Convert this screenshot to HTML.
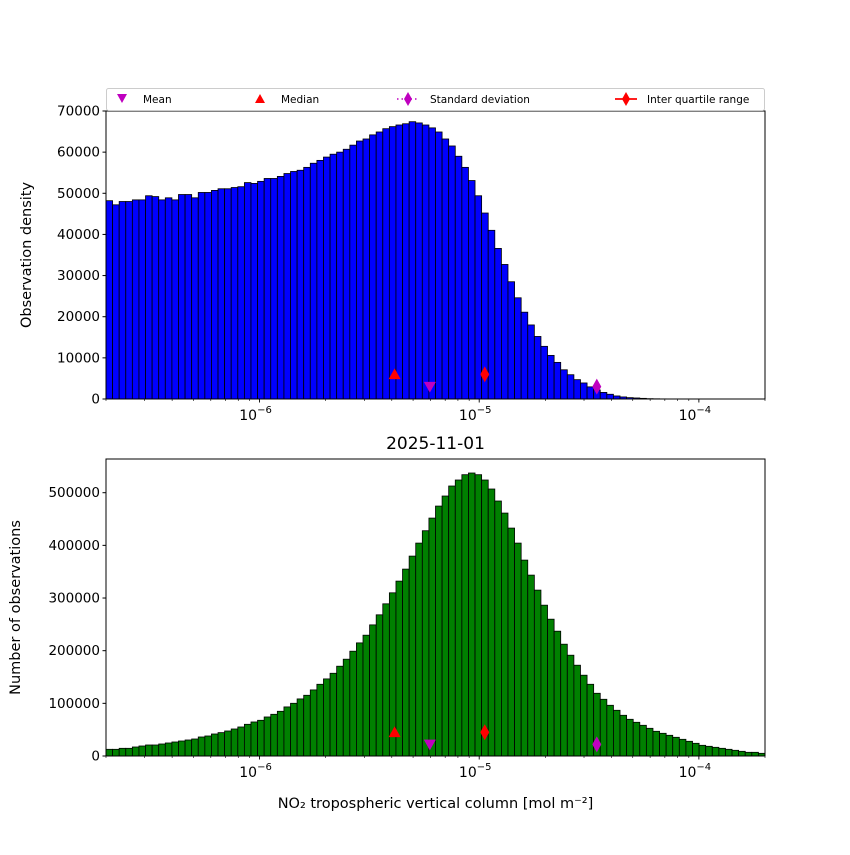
<!DOCTYPE html>
<html><head><meta charset="utf-8"><style>
body{margin:0;background:#fff}
svg text{font-family:"DejaVu Sans","Liberation Sans",sans-serif;fill:#000}
</style></head><body>
<svg id="chart" width="850" height="850" viewBox="0 0 850 850" xmlns="http://www.w3.org/2000/svg"></svg>
<script>
const topDensity=[48.2,47.2,48.0,48.0,48.4,48.4,49.4,49.2,48.4,48.9,
48.4,49.7,49.7,48.9,50.2,50.2,50.7,51.1,51.1,51.4,
51.6,52.6,52.4,52.9,53.6,53.6,54.1,54.8,55.3,55.6,
56.3,57.3,58.0,58.8,59.5,60.0,60.7,61.7,62.7,63.2,
64.2,64.9,65.7,66.2,66.6,66.9,67.4,67.1,66.6,65.9,
64.9,63.2,61.5,59.0,56.3,53.1,49.4,45.2,41.0,36.6,
32.7,28.5,24.6,21.1,18.0,15.2,12.8,10.6,8.9,7.1,
5.9,4.7,3.9,2.95,2.2,1.6,1.15,0.74,0.5,0.33,
0.25,0.16,0.08,0.05,0.03,0.02,0.01,0.005,0,0,0,0,0,0,0,0,0,0,0,0];
const bottomCounts=[12.7,12.7,14.6,14.6,17.1,19.0,20.9,20.9,22.8,24.7,
26.6,28.5,30.4,32.3,36.1,38.0,41.8,44.4,47.5,51.3,
55.1,60.2,64.6,67.8,74.1,79.2,84.9,93.2,100.1,108.4,
115.3,125.5,136.2,146.4,157.1,170.5,183.8,199.0,214.8,229.4,
249.0,268.1,289.0,309.9,332.1,354.9,379.6,404.3,427.8,451.8,
474.6,493.7,512.7,524.1,534.2,537.4,534.2,524.1,507.0,484.2,
461.3,432.8,404.3,372.0,343.5,315.0,286.4,259.8,237.0,212.3,
191.4,172.4,153.4,136.2,119.1,107.7,96.3,86.8,77.3,69.7,
64.0,58.3,52.6,46.9,43.1,39.3,35.5,31.7,27.9,24.1,
20.3,18.4,16.5,14.6,12.7,10.8,8.9,7.0,7.0,5.1];
const xMin=2e-7, xMax=2e-4;
const topYTicks=[0,10000,20000,30000,40000,50000,60000,70000];
const bottomYTicks=[0,100000,200000,300000,400000,500000];
const statMean=5.96e-6, statMedian=4.12e-6, statIQRUpper=1.06e-5, statStdUpper=3.43e-5;
const topMarkerHi=6000, topMarkerLo=3000, botMarkerHi=45000, botMarkerLo=22000;

const NS="http://www.w3.org/2000/svg";
const svg=document.getElementById('chart');
function mk(tag,attrs,parent){const e=document.createElementNS(NS,tag);for(const k in attrs)e.setAttribute(k,attrs[k]);(parent||svg).appendChild(e);return e;}
const L=106,R=765;
function xs(v){return L+(Math.log10(v)-Math.log10(xMin))/(Math.log10(xMax)-Math.log10(xMin))*(R-L);}

function panel(name,top,bot,yMax,vals,scale,color,ticks,ylabel,ylabelX,hi,lo){
  const g=mk('g',{});
  
  
  const ys=v=>bot-v/yMax*(bot-top);
  const n=vals.length, lmin=Math.log10(xMin), lmax=Math.log10(xMax);
  for(let i=0;i<n;i++){
    const a=xs(Math.pow(10,lmin+(lmax-lmin)*i/n)), b=xs(Math.pow(10,lmin+(lmax-lmin)*(i+1)/n));
    const v=vals[i]*scale; if(v<=0) continue;
    const r=mk('rect',{x:a,y:ys(v),width:b-a,height:bot-ys(v),fill:color,stroke:'#000','stroke-width':0.8},g);
    
    
  }
  mk('rect',{x:L,y:top,width:R-L,height:bot-top,fill:'none',stroke:'#000','stroke-width':1},g);
  ticks.forEach(t=>{const y=ys(t);mk('line',{x1:L-3.5,x2:L,y1:y,y2:y,stroke:'#000'},g);
    const tx=mk('text',{x:L-6,y:y+4.5,'text-anchor':'end','font-size':13.5},g);tx.textContent=t;
    });
  for(let d=-7;d<=-4;d++){for(let m=1;m<10;m++){const v=m*Math.pow(10,d);if(v<xMin*0.999||v>xMax*1.001)continue;const x=xs(v);
    mk('line',{x1:x,x2:x,y1:bot,y2:bot+(m==1?3.5:2),stroke:'#000','stroke-width':m==1?0.9:0.6},g);
    if(m==1){const tx=mk('text',{x:x-4,y:bot+21,'text-anchor':'middle','font-size':14},g);tx.innerHTML='10<tspan dy="-7" font-size="10">−'+(-d)+'</tspan>';
      }}}
  const yl=mk('text',{x:ylabelX,y:(top+bot)/2,'text-anchor':'middle','font-size':14.5,transform:`rotate(-90 ${ylabelX} ${(top+bot)/2})`},g);
  yl.textContent=ylabel;
  const tri=(x,y,up,c)=>{const s=6;return mk('path',{d:up?`M${x} ${y-s}L${x+s} ${y+s*0.8}L${x-s} ${y+s*0.8}Z`:`M${x} ${y+s}L${x+s} ${y-s*0.8}L${x-s} ${y-s*0.8}Z`,fill:c},g);};
  const dia=(x,y,c)=>mk('path',{d:`M${x} ${y-8}L${x+4.5} ${y}L${x} ${y+8}L${x-4.5} ${y}Z`,fill:c},g);
  let e;
  e=dia(xs(statIQRUpper),ys(hi),'#ff0000');
  e=tri(xs(statMedian),ys(hi),true,'#ff0000');
  e=dia(xs(statStdUpper),ys(lo),'#bf00bf');
  e=tri(xs(statMean),ys(lo),false,'#bf00bf');
}
panel('top-histogram',111,399,70000*1.0,topDensity,1000,'#0000ff',topYTicks,'Observation density',31,topMarkerHi,topMarkerLo);
panel('bottom-histogram',459,756,564000,bottomCounts,1000,'#008000',bottomYTicks,'Number of observations',20,botMarkerHi,botMarkerLo);

let t=mk('text',{x:435.5,y:449,'text-anchor':'middle','font-size':17});t.textContent='2025-11-01';


t=mk('text',{x:435.5,y:808,'text-anchor':'middle','font-size':14.5});t.textContent='NO₂ tropospheric vertical column [mol m⁻²]';


const lg=mk('g',{});


mk('rect',{x:106.5,y:88.5,width:658,height:22,rx:2,fill:'#fff',stroke:'#ccc'},lg);
mk('path',{d:'M117 94L127 94L122 103Z',fill:'#bf00bf'},lg);
mk('path',{d:'M260 94L265 103L255 103Z',fill:'#ff0000'},lg);
mk('line',{x1:397,x2:419,y1:99,y2:99,stroke:'#bf00bf','stroke-width':1.5,'stroke-dasharray':'1.5 3'},lg);
mk('path',{d:'M408 92L412 99L408 106L404 99Z',fill:'#bf00bf'},lg);
mk('line',{x1:615,x2:637,y1:99,y2:99,stroke:'#ff0000','stroke-width':1.8},lg);
mk('path',{d:'M626 92L630 99L626 106L622 99Z',fill:'#ff0000'},lg);
[['Mean',143],['Median',281],['Standard deviation',430],['Inter quartile range',647]].forEach(([s,x])=>{
  const e=mk('text',{x:x,y:103,'font-size':10.5},lg);e.textContent=s;
  
  
});
</script>
</body></html>
